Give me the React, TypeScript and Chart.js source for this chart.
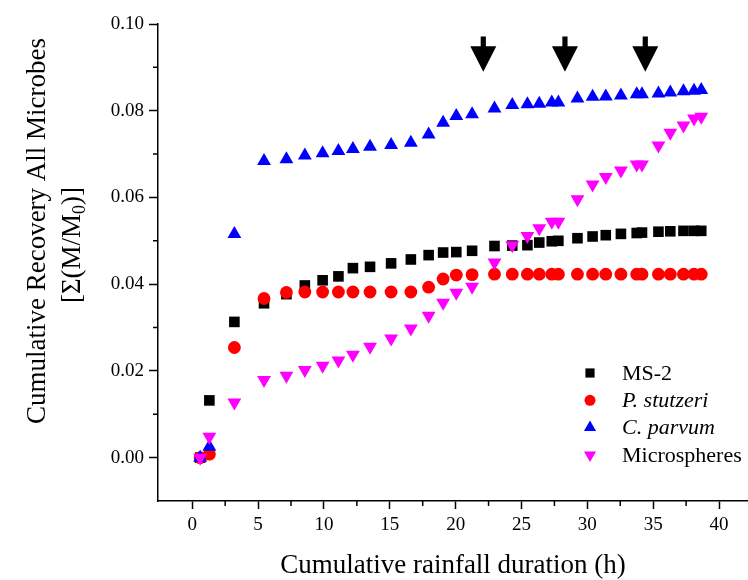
import React, { useEffect, useRef } from 'react';
import { Chart, registerables } from 'chart.js';
import { drawPoint } from 'chart.js/helpers';

Chart.register(...registerables);

// Cumulative rainfall duration (h) of each sample
const hours = [
  0.6, 1.3, 3.2, 5.45, 7.15, 8.55, 9.9, 11.1, 12.2, 13.5, 15.1, 16.6, 17.95, 19.05, 20.05, 21.25,
  22.95, 24.3, 25.45, 26.35, 27.3, 27.8, 29.25, 30.4, 31.4, 32.55, 33.75, 34.15, 35.4, 36.3, 37.3, 38.1, 38.65,
];

const ms2 = [
  0.0, 0.0132, 0.0313, 0.0356, 0.0377, 0.0397, 0.0409, 0.0418, 0.0437, 0.044, 0.0448, 0.0457, 0.0467, 0.0473, 0.0474, 0.0477,
  0.0488, 0.0489, 0.049, 0.0496, 0.0499, 0.05, 0.0506, 0.051, 0.0513, 0.0516, 0.0518, 0.0519, 0.0521, 0.0522, 0.0523, 0.0523, 0.0523,
];

const stutzeri = [
  0.0, 0.0008, 0.0254, 0.0367, 0.0381, 0.0382, 0.0382, 0.0382, 0.0382, 0.0382, 0.0382, 0.0382, 0.0393, 0.0412, 0.0421, 0.0422,
  0.0423, 0.0423, 0.0423, 0.0423, 0.0423, 0.0423, 0.0423, 0.0423, 0.0423, 0.0423, 0.0423, 0.0423, 0.0423, 0.0423, 0.0423, 0.0423, 0.0423,
];

const parvum = [
  0.0, 0.0025, 0.0516, 0.0684, 0.0688, 0.0697, 0.0702, 0.0707, 0.0712, 0.0717, 0.0721, 0.0726, 0.0745, 0.0772, 0.0788, 0.0792,
  0.0805, 0.0813, 0.0815, 0.0816, 0.0819, 0.0819, 0.0828, 0.0832, 0.0833, 0.0835, 0.0838, 0.0838, 0.084, 0.0842, 0.0845, 0.0846, 0.0848,
];

const microspheres = [
  0.0, 0.0048, 0.0127, 0.0179, 0.0189, 0.0202, 0.0212, 0.0224, 0.0237, 0.0256, 0.0275, 0.0298, 0.0327, 0.0357, 0.038, 0.0394,
  0.045, 0.049, 0.0511, 0.0529, 0.0544, 0.0544, 0.0596, 0.063, 0.0647, 0.0662, 0.0676, 0.0676, 0.072, 0.0749, 0.0766, 0.0782, 0.0786,
];

const seriesNames = ['MS-2', 'P. stutzeri', 'C. parvum', 'Microspheres'];
const seriesItalic = [false, true, true, false];

const xMajorTicks = [0, 5, 10, 15, 20, 25, 30, 35, 40];
const xMinorTicks = [2.5, 7.5, 12.5, 17.5, 22.5, 27.5, 32.5, 37.5];
const yMajorTicks = [0, 0.02, 0.04, 0.06, 0.08, 0.1];
const yMinorTicks = [0.01, 0.03, 0.05, 0.07, 0.09];

// Arrows marking rainfall events
const arrowHours = [22.1, 28.3, 34.4];
const arrowTop = 0.0971;
const arrowTip = 0.089;

const xTitle = 'Cumulative rainfall duration (h)';
const yTitleLine1 = 'Cumulative Recovery All Microbes';
const yTitleLine2a = '[\u03A3(M/M';
const yTitleSub = '0';
const yTitleLine2b = ')]';

const FONT = '"Liberation Serif", "Times New Roman", serif';

const minorTicksPlugin = {
  id: 'minorTicks',
  afterDraw(chart: any) {
    const { ctx, chartArea } = chart;
    const xs = chart.scales.x;
    const ys = chart.scales.y;
    ctx.save();
    ctx.strokeStyle = '#000';
    ctx.lineWidth = 1.5;
    ctx.beginPath();
    xMinorTicks.forEach((v) => {
      const px = xs.getPixelForValue(v);
      ctx.moveTo(px, chartArea.bottom);
      ctx.lineTo(px, chartArea.bottom + 5);
    });
    yMinorTicks.forEach((v) => {
      const py = ys.getPixelForValue(v);
      ctx.moveTo(chartArea.left, py);
      ctx.lineTo(chartArea.left - 5, py);
    });
    ctx.stroke();
    ctx.restore();
  },
};

const arrowsPlugin = {
  id: 'arrows',
  afterDatasetsDraw(chart: any) {
    const { ctx } = chart;
    const xs = chart.scales.x;
    const ys = chart.scales.y;
    ctx.save();
    ctx.fillStyle = '#000';
    arrowHours.forEach((h) => {
      const px = xs.getPixelForValue(h);
      const top = ys.getPixelForValue(arrowTop);
      const tip = ys.getPixelForValue(arrowTip);
      const headH = 25.5;
      const headHalf = 13;
      const shaftHalf = 2.6;
      const base = tip - headH;
      ctx.beginPath();
      ctx.moveTo(px - shaftHalf, top);
      ctx.lineTo(px + shaftHalf, top);
      ctx.lineTo(px + shaftHalf, base);
      ctx.lineTo(px + headHalf, base);
      ctx.lineTo(px, tip);
      ctx.lineTo(px - headHalf, base);
      ctx.lineTo(px - shaftHalf, base);
      ctx.closePath();
      ctx.fill();
    });
    ctx.restore();
  },
};

const legendPlugin = {
  id: 'customLegend',
  afterDraw(chart: any) {
    const { ctx } = chart;
    const markerX = 590;
    const textX = 622;
    const firstY = 373;
    const gap = 27.3;
    const markerRadius = [6.5, 5.5, 7, 7];
    ctx.save();
    chart.data.datasets.forEach((ds: any, i: number) => {
      const y = firstY + i * gap;
      ctx.fillStyle = ds.backgroundColor;
      drawPoint(ctx, {
        pointStyle: ds.pointStyle,
        rotation: ds.pointRotation || 0,
        radius: markerRadius[i],
        borderWidth: 0,
      } as any, markerX, y);
      ctx.fillStyle = '#000';
      ctx.font = (seriesItalic[i] ? 'italic ' : '') + '22px ' + FONT;
      ctx.textAlign = 'left';
      ctx.textBaseline = 'middle';
      ctx.fillText(seriesNames[i], textX, y + 1);
    });
    ctx.restore();
  },
};

const yTitlePlugin = {
  id: 'yTitle',
  afterDraw(chart: any) {
    const { ctx } = chart;
    ctx.save();
    ctx.fillStyle = '#000';
    ctx.font = '27px ' + FONT;
    ctx.textBaseline = 'middle';
    ctx.textAlign = 'center';
    ctx.save();
    ctx.translate(38, 231);
    ctx.rotate(-Math.PI / 2);
    ctx.fillText(yTitleLine1, 0, 0);
    ctx.restore();

    ctx.save();
    ctx.translate(73, 245);
    ctx.rotate(-Math.PI / 2);
    ctx.textAlign = 'left';
    ctx.font = '27px ' + FONT;
    const wa = ctx.measureText(yTitleLine2a).width;
    const wb = ctx.measureText(yTitleLine2b).width;
    ctx.font = '18px ' + FONT;
    const ws = ctx.measureText(yTitleSub).width;
    const total = wa + ws + wb;
    let x0 = -total / 2;
    ctx.font = '27px ' + FONT;
    ctx.fillText(yTitleLine2a, x0, 0);
    x0 += wa;
    ctx.font = '18px ' + FONT;
    ctx.fillText(yTitleSub, x0, 7);
    x0 += ws;
    ctx.font = '27px ' + FONT;
    ctx.fillText(yTitleLine2b, x0, 0);
    ctx.restore();
    ctx.restore();
  },
};

function toPoints(ys: number[]) {
  return hours.map((h, i) => ({ x: h, y: ys[i] }));
}

export default function App() {
  const ref = useRef<HTMLCanvasElement>(null);

  useEffect(() => {
    const canvas = ref.current;
    if (!canvas) return;
    const chart = new Chart(canvas, {
      type: 'scatter',
      data: {
        datasets: [
          {
            label: seriesNames[0],
            data: toPoints(ms2),
            pointStyle: 'rect',
            pointRadius: 7.5,
            backgroundColor: '#000000',
            pointBorderWidth: 0,
            order: 4,
          } as any,
          {
            label: seriesNames[1],
            data: toPoints(stutzeri),
            pointStyle: 'circle',
            pointRadius: 6.4,
            backgroundColor: '#ff0000',
            pointBorderWidth: 0,
            order: 3,
          },
          {
            label: seriesNames[2],
            data: toPoints(parvum),
            pointStyle: 'triangle',
            pointRadius: 8,
            backgroundColor: '#0000ff',
            pointBorderWidth: 0,
            order: 2,
          },
          {
            label: seriesNames[3],
            data: toPoints(microspheres),
            pointStyle: 'triangle',
            pointRotation: 180,
            pointRadius: 8,
            backgroundColor: '#ff00ff',
            pointBorderWidth: 0,
            order: 1,
          },
        ],
      },
      options: {
        animation: false,
        responsive: false,
        devicePixelRatio: 1,
        layout: { autoPadding: false, padding: { top: 24, right: 0, bottom: 0, left: 0 } },
        plugins: {
          legend: { display: false },
          tooltip: { enabled: false },
        },
        scales: {
          x: {
            type: 'linear',
            min: -2.6,
            max: 42.2,
            afterBuildTicks: (s: any) => {
              s.ticks = xMajorTicks.map((v) => ({ value: v }));
            },
            afterFit: (s: any) => {
              s.height = 79;
              s.paddingLeft = 0;
              s.paddingRight = 0;
            },
            grid: {
              drawOnChartArea: false,
              drawTicks: true,
              tickLength: 8,
              tickWidth: 1.5,
              tickColor: '#000',
            },
            border: { display: true, color: '#000', width: 1.5 },
            ticks: {
              color: '#000',
              font: { family: FONT, size: 19 },
              padding: 5,
              maxRotation: 0,
              autoSkip: false,
              callback: (v: any) => String(v),
            },
            title: {
              display: true,
              text: xTitle,
              color: '#000',
              font: { family: FONT, size: 27 },
              padding: { top: 0, bottom: -2 },
            },
          },
          y: {
            type: 'linear',
            min: -0.01,
            max: 0.1,
            afterBuildTicks: (s: any) => {
              s.ticks = yMajorTicks.map((v) => ({ value: v }));
            },
            afterFit: (s: any) => {
              s.width = 158;
              s.paddingTop = 0;
              s.paddingBottom = 0;
            },
            grid: {
              drawOnChartArea: false,
              drawTicks: true,
              tickLength: 9,
              tickWidth: 1.5,
              tickColor: '#000',
            },
            border: { display: true, color: '#000', width: 1.5 },
            ticks: {
              color: '#000',
              font: { family: FONT, size: 19 },
              padding: 5,
              autoSkip: false,
              callback: (v: any) => Number(v).toFixed(2),
            },
          },
        },
      },
      plugins: [minorTicksPlugin, arrowsPlugin, legendPlugin, yTitlePlugin],
    } as any);
    return () => chart.destroy();
  }, []);

  return (
    <div style={{ position: 'absolute', left: 0, top: 0, width: 748, height: 580, background: '#fff' }}>
      <canvas ref={ref} width={748} height={580} style={{ display: 'block' }} />
    </div>
  );
}
